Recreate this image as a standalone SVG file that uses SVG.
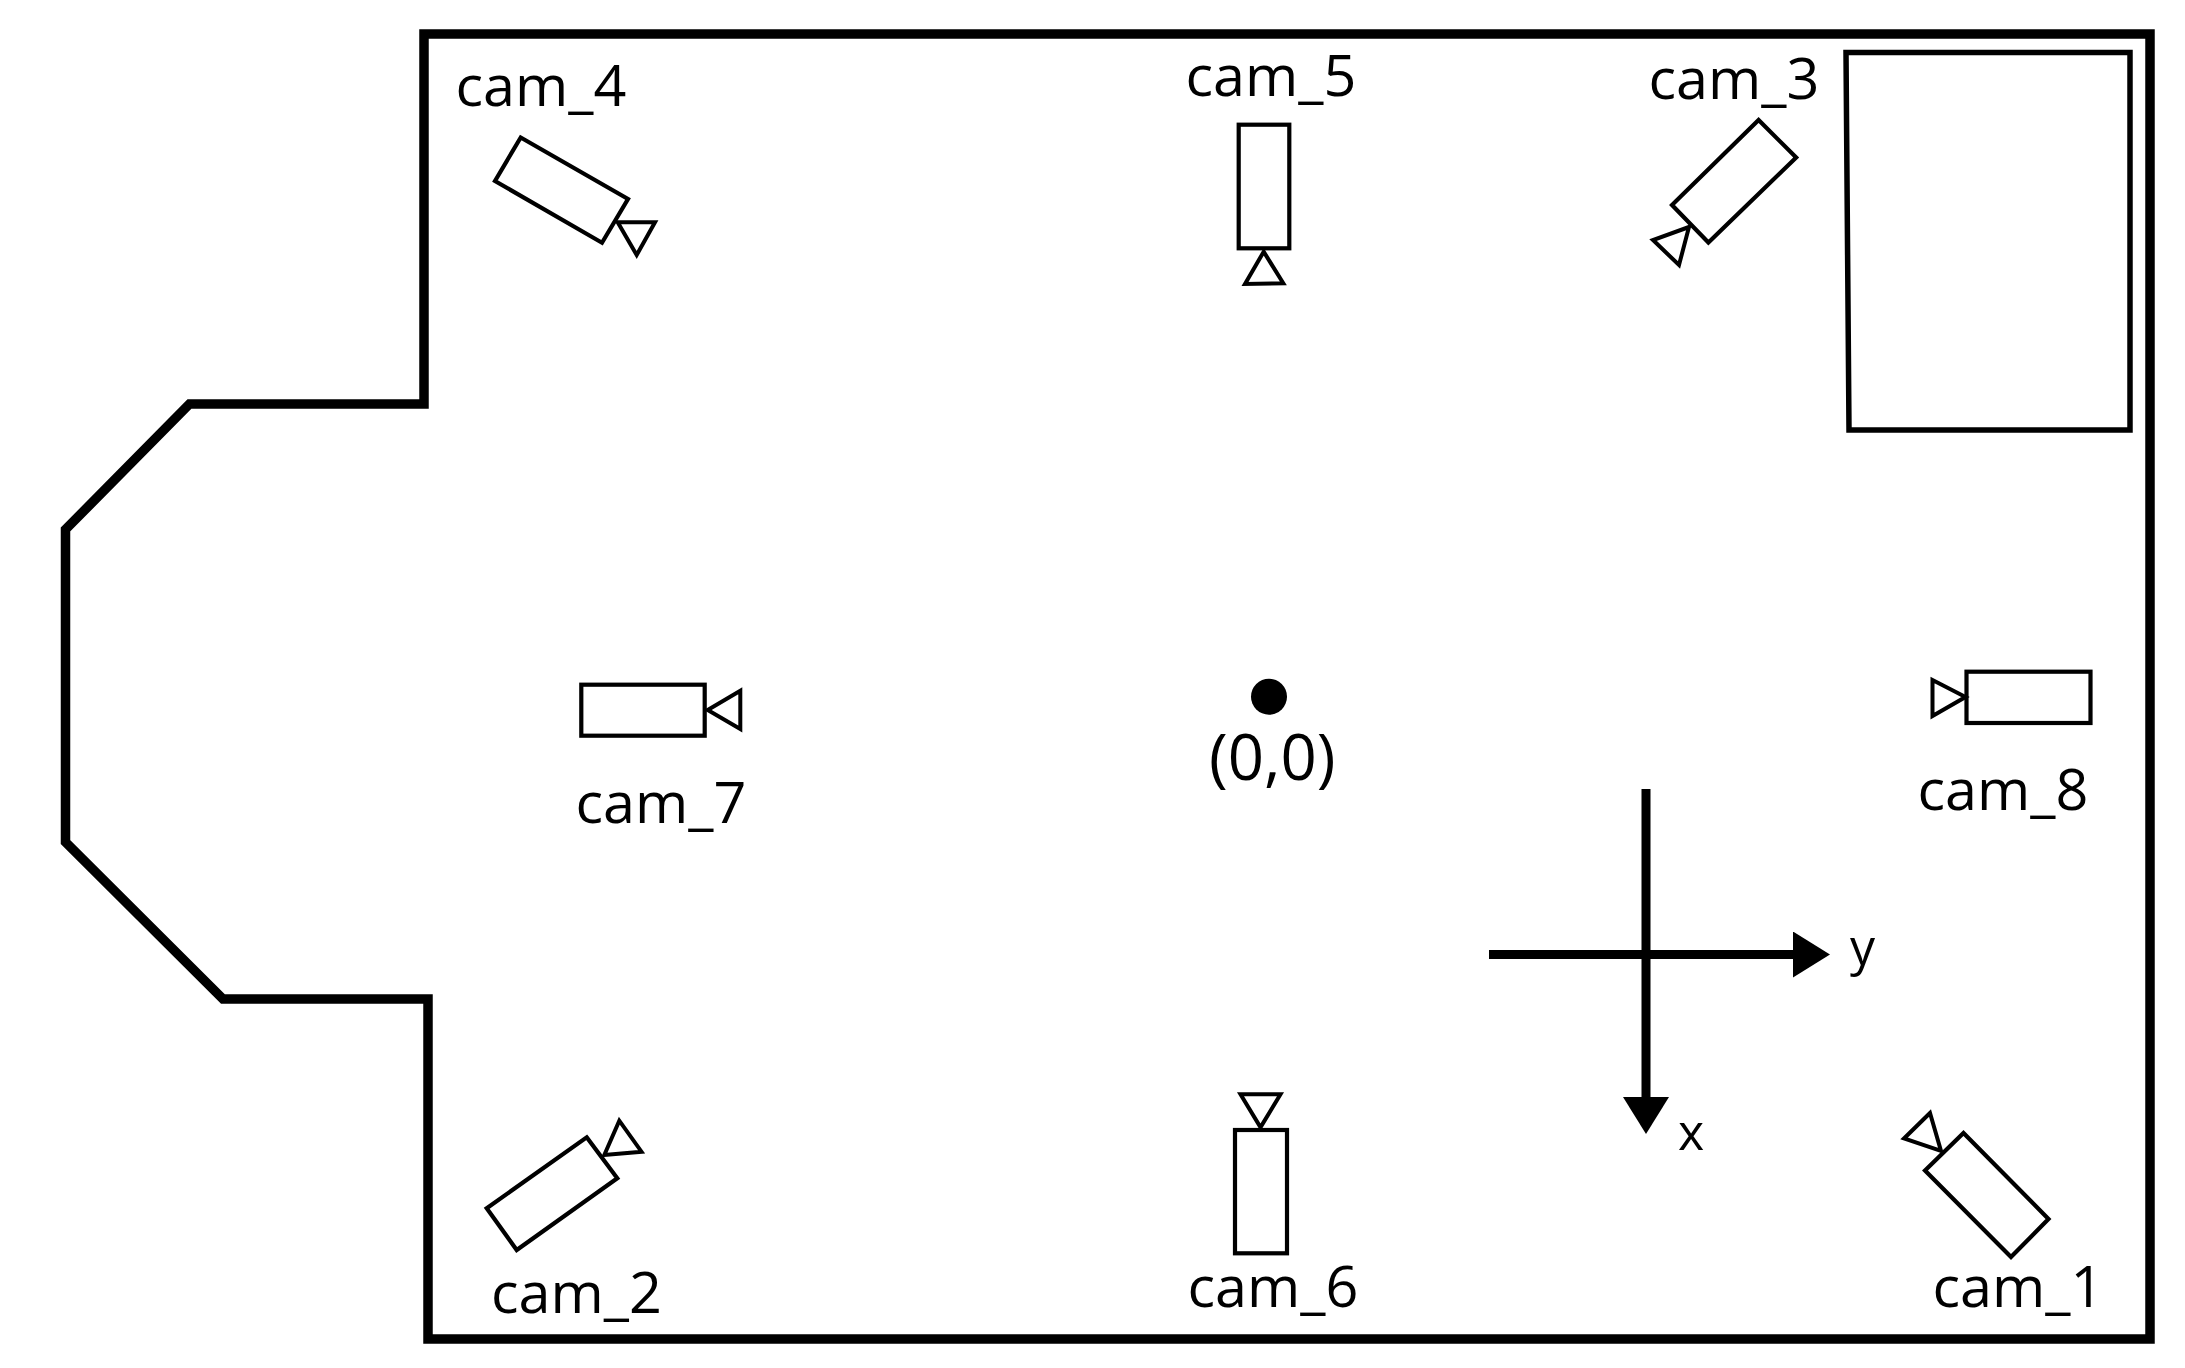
<svg xmlns="http://www.w3.org/2000/svg" width="2185" height="1368" viewBox="0 0 2185 1368">
<style>
text{font-family:"Open Sans","Noto Sans",sans-serif;fill:#000}
.l{font-size:57.500px}
.a{font-size:50px}
.b{fill:none;stroke:#000;stroke-width:4.200;stroke-linejoin:miter}
.t{fill:none;stroke:#000;stroke-width:4}
.axis{stroke:#000;stroke-width:9;fill:none}
</style>
<defs>
<marker id="head" markerUnits="userSpaceOnUse" markerWidth="40" markerHeight="50" refX="0" refY="23" orient="auto"><path d="M0 0L37 23L0 46Z" fill="#000"/></marker>
</defs>
<rect width="2185" height="1368" fill="#fff"/>
<g id="room"><path d="M424 34H2150V1339H428V999H223L65.500 842V529.500L189.500 404H424Z" fill="none" stroke="#000" stroke-width="9.500"/></g>
<g id="box"><polygon points="1846,52.500 2130,52.500 2130,430 1849,430" fill="none" stroke="#000" stroke-width="5.500"/></g>
<g id="connectors">
<line class="axis" x1="1646" y1="789" x2="1646" y2="1097" marker-end="url(#head)"/>
<line class="axis" x1="1489" y1="954.500" x2="1793" y2="954.500" marker-end="url(#head)"/>
</g>
<g id="axis-y"><text class="a" x="1850" y="965">y</text></g>
<g id="axis-x"><text class="a" x="1678" y="1150">x</text></g>
<g id="origin"><circle cx="1269" cy="696.700" r="18" fill="#000"/><text x="1209" y="780" style="font-size:63.500px">(0,0)</text></g>
<g id="cam_1"><polygon class="b" points="1963.500,1133 2048.500,1219 2011,1257 1925,1170.500"/><polygon class="t" points="1930,1113 1904,1138.500 1941,1151"/><text class="l" x="1932.500" y="1307">cam_1</text></g>
<g id="cam_2"><polygon class="b" points="586.700,1137.300 617.300,1178.300 516.700,1250 486.700,1208.300"/><polygon class="t" points="604.300,1155 619.300,1120.700 641.500,1151.700"/><text class="l" x="491" y="1313">cam_2</text></g>
<g id="cam_3"><polygon class="b" points="1758.600,120 1796.200,157.500 1708.400,242.500 1672,205"/><polygon class="t" points="1689,227 1653,240 1679,265"/><text class="l" x="1648.500" y="99">cam_3</text></g>
<g id="cam_4"><polygon class="b" points="520.700,137.500 628,199 602,242.700 495,181"/><polygon class="t" points="617.700,222.300 655,222.300 636.700,255"/><text class="l" x="455.500" y="106">cam_4</text></g>
<g id="cam_5"><rect class="b" x="1238.700" y="124.700" width="50.600" height="123.600"/><polygon class="t" points="1263.700,251.700 1245,284 1283.300,283.300"/><text class="l" x="1185.500" y="96">cam_5</text></g>
<g id="cam_6"><rect class="b" x="1235" y="1130" width="52" height="123.300"/><polygon class="t" points="1240.500,1094.300 1280.500,1094.300 1260.500,1127.300"/><text class="l" x="1187.500" y="1307">cam_6</text></g>
<g id="cam_7"><rect class="b" x="581.300" y="684.700" width="123.400" height="51"/><polygon class="t" points="707.700,710 740.300,690.700 740.300,729"/><text class="l" x="575.500" y="823">cam_7</text></g>
<g id="cam_8"><rect class="b" x="1966.500" y="671.700" width="124" height="51.300"/><polygon class="t" points="1965.500,697 1932.500,680 1932.500,716"/><text class="l" x="1917.500" y="810">cam_8</text></g>
</svg>
